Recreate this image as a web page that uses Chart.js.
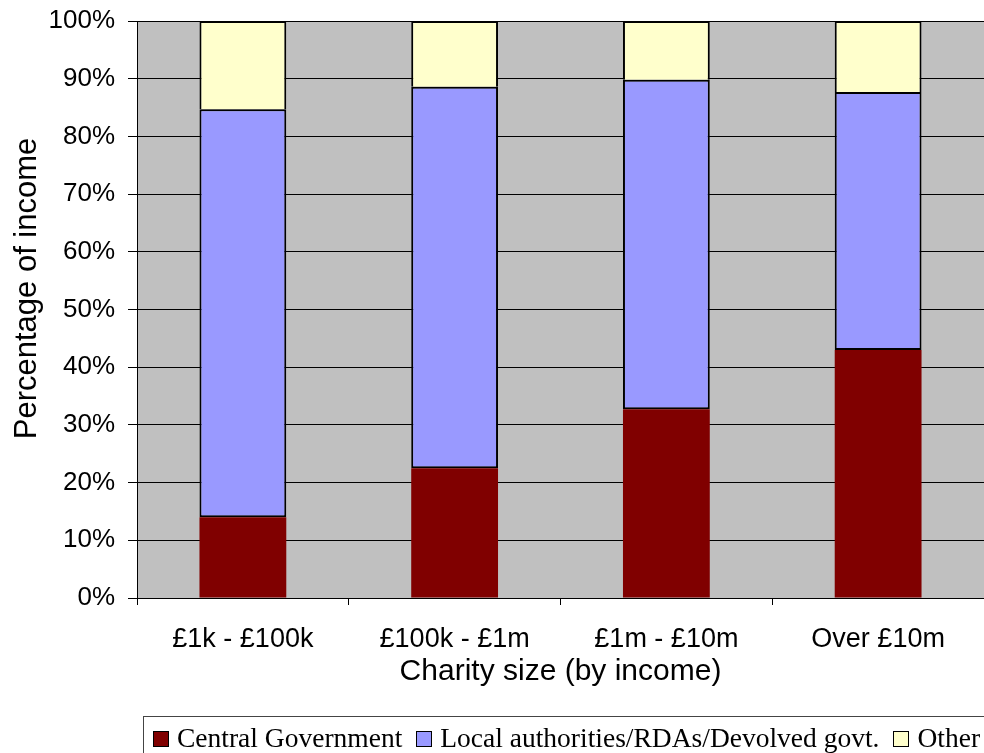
<!DOCTYPE html>
<html>
<head>
<meta charset="utf-8">
<script src="https://cdn.jsdelivr.net/npm/chart.js@4"></script>
<style>
  body { margin: 0; background: #fff; overflow: hidden; }
  #wrap { position: relative; width: 984px; height: 753px; }
  #incomeChart { position: absolute; left: 0; top: 0; }
  #legendContainer {
    position: absolute;
    left: 143px;
    top: 716px;
    width: 900px;
    height: 60px;
    border: 1px solid #444;
    padding: 6px 0 0 9px;
    box-sizing: border-box;
    font-family: "Liberation Serif", "Times New Roman", serif;
    font-size: 27.5px;
    line-height: 30px;
    white-space: nowrap;
    color: #000;
  }
  #legendContainer .item { margin-right: 14px; }
  #legendContainer .swatch {
    display: inline-block;
    width: 14px;
    height: 14px;
    border: 1px solid #000;
    margin-right: 8px;
    vertical-align: baseline;
  }
</style>
</head>
<body>
<div id="wrap">
  <canvas id="incomeChart" width="984" height="753"></canvas>
  <div id="legendContainer"></div>
</div>
<script>
const categories = ["£1k - £100k", "£100k - £1m", "£1m - £10m", "Over £10m"];
const seriesNames = ["Central Government", "Local authorities/RDAs/Devolved govt.", "Other"];
const centralGov = [14.0, 22.5, 32.7, 43.0];
const localAuth = [70.7, 66.1, 57.1, 44.7];
const other = [15.3, 11.4, 10.2, 12.3];
const seriesColors = ["#800000", "#9999FF", "#FFFFCC"];
const yTitle = "Percentage of income";

// grey plot background, painted before the grid lines
const plotBackground = {
  id: "plotBackground",
  beforeDraw(chart) {
    const { ctx, chartArea: a } = chart;
    ctx.save();
    ctx.fillStyle = "#C0C0C0";
    ctx.fillRect(a.left, a.top, a.right - a.left, a.bottom - a.top);
    ctx.restore();
  },
};

// vertical axis title, sits a little above the middle of the axis
const axisTitleY = {
  id: "axisTitleY",
  afterDraw(chart) {
    const { ctx, chartArea: a } = chart;
    ctx.save();
    ctx.translate(27, (a.top + a.bottom) / 2 - 21);
    ctx.rotate(-Math.PI / 2);
    ctx.font = "31px 'Liberation Sans', Arial, sans-serif";
    ctx.fillStyle = "#000";
    ctx.textAlign = "center";
    ctx.textBaseline = "middle";
    ctx.fillText(yTitle, 0, 0);
    ctx.restore();
  },
};

Chart.defaults.font.family = "'Liberation Sans', Arial, sans-serif";
Chart.defaults.color = "#000";

const ctx = document.getElementById("incomeChart").getContext("2d");

const chart = new Chart(ctx, {
  type: "bar",
  data: {
    labels: categories,
    datasets: [
      {
        label: seriesNames[0],
        data: centralGov,
        backgroundColor: seriesColors[0],
        borderWidth: 0,
      },
      {
        label: seriesNames[1],
        data: localAuth,
        backgroundColor: seriesColors[1],
        borderColor: "#000",
        borderWidth: 2,
        borderSkipped: false,
      },
      {
        label: seriesNames[2],
        data: other,
        backgroundColor: seriesColors[2],
        borderColor: "#000",
        borderWidth: 2,
        borderSkipped: "bottom",
      },
    ],
  },
  options: {
    responsive: false,
    devicePixelRatio: 1,
    animation: false,
    layout: { padding: { top: 21, right: 0, bottom: 0, left: 0 } },
    datasets: {
      bar: { categoryPercentage: 1.0, barPercentage: 0.41 },
    },
    plugins: {
      legend: { display: false },
      tooltip: { enabled: false },
    },
    scales: {
      x: {
        stacked: true,
        grid: {
          offset: true,
          drawOnChartArea: false,
          drawTicks: true,
          tickLength: 7,
          color: "#000",
        },
        border: { color: "#000", width: 1 },
        ticks: { font: { size: 27 }, padding: 18, maxRotation: 0 },
        title: {
          display: true,
          text: "Charity size (by income)",
          font: { size: 30 },
          padding: { top: 0, bottom: 63 },
        },
        afterFit(scale) {
          scale.height = 155;
          scale.paddingLeft = 0;
          scale.paddingRight = 0;
        },
      },
      y: {
        stacked: true,
        min: 0,
        max: 100,
        grid: {
          color: "#000",
          lineWidth: 1,
          drawTicks: true,
          tickLength: 9,
        },
        border: { color: "#000", width: 1 },
        ticks: {
          stepSize: 10,
          font: { size: 26 },
          padding: 13,
          callback: (v) => v + "%",
        },
        afterFit(scale) {
          scale.width = 137;
          scale.paddingTop = 0;
          scale.paddingBottom = 0;
        },
      },
    },
  },
  plugins: [plotBackground, axisTitleY],
});

// legend strip under the chart
document.getElementById("legendContainer").innerHTML = chart.data.datasets
  .map(
    (ds) =>
      `<span class="item"><span class="swatch" style="background:${ds.backgroundColor}"></span>${ds.label}</span>`
  )
  .join("");
</script>
</body>
</html>
